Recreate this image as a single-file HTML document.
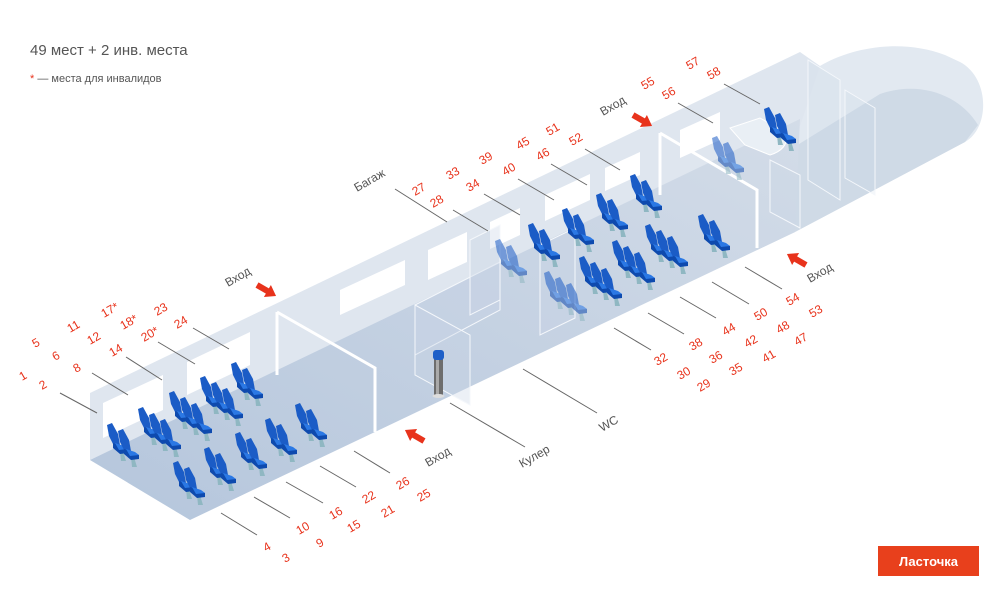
<!DOCTYPE html>
<html><head><meta charset="utf-8"><style>
body{margin:0;background:#fff;width:1000px;height:600px;overflow:hidden;font-family:"Liberation Sans","DejaVu Sans",sans-serif}
svg{display:block}
.r{fill:#e8331c;font-size:12px;font-family:"Liberation Sans","DejaVu Sans",sans-serif}
.g{fill:#555;font-size:12px;font-family:"Liberation Sans","DejaVu Sans",sans-serif}
.ld{stroke:#666;stroke-width:1}
</style></head><body>
<svg width="1000" height="600" viewBox="0 0 1000 600" xmlns="http://www.w3.org/2000/svg">
<defs>
<linearGradient id="fl" x1="0" y1="1" x2="1" y2="0">
<stop offset="0" stop-color="#b5c6dc"/><stop offset="1" stop-color="#d3dce8"/></linearGradient>
<g id="s">
<polygon points="13,27 16,27 19,37 14,37" fill="#8fb7c2"/>
<polygon points="0,1 5,-1 11,10 13,21 7,22 2,12" fill="#1b5cc6"/>
<polygon points="6,19 15,22 21,25 21,29 13,30 6,24" fill="#0e4aae"/>
<polygon points="8,19 17,22 21,25 12,26" fill="#2b78e4"/>
</g>
<g id="s2"><use href="#s"/><use href="#s" x="11" y="6"/></g>
<g id="s3"><use href="#s"/><use href="#s" x="11" y="6"/><use href="#s" x="22" y="12"/></g>
</defs>

<!-- nose / cab shell -->
<path d="M760,98 L820,66 C850,48 900,38 945,55 L960,62 C990,78 990,128 965,142 L795,232 L757,250 Z" fill="#e2e9f1"/>
<path d="M880,94 C920,80 960,95 978,125 L965,142 L795,232 L757,250 L757,170 Z" fill="#cfdae6"/>
<!-- back wall -->
<polygon points="90,393 800,52 820,66 800,126 90,460" fill="#dfe6ef"/>
<!-- floor -->
<polygon points="90,460 190,520 795,232 800,119" fill="url(#fl)"/>
<!-- windows -->
<g fill="#fff">
<polygon points="103,403 163,375 163,410 103,438"/>
<polygon points="187,362 250,332 250,365 187,395"/>
<polygon points="340,290 405,260 405,285 340,315"/>
<polygon points="428,250 467,232 467,262 428,280"/>
<polygon points="490,222 520,208 520,235 490,249"/>
<polygon points="545,195 590,174 590,200 545,221"/>
<polygon points="605,168 640,152 640,175 605,191"/>
<polygon points="680,130 720,112 720,140 680,158"/>
</g>
<!-- translucent boxes -->
<g fill="#c9d5e4" fill-opacity="0.35" stroke="#f4f7fb" stroke-width="1">
<polygon points="415,305 500,262 500,310 415,355"/>
<polygon points="470,240 500,225 500,300 470,315"/>
<polygon points="415,305 470,335 470,405 415,375"/>
<polygon points="540,245 575,228 575,318 540,335"/>
<polygon points="808,60 840,80 840,200 808,180" fill-opacity="0.2"/>
<polygon points="845,90 875,108 875,195 845,178" fill-opacity="0.2"/>
<polygon points="770,160 800,175 800,228 770,212" fill-opacity="0.2"/>
</g>
<!-- vestibule frames -->
<g fill="none" stroke="#fff" stroke-width="3">
<polyline points="277,312 375,368 375,432"/>
<polyline points="277,312 277,375"/>
<polyline points="660,133 757,190 757,248"/>
<polyline points="660,133 660,195"/>
</g>
<!-- table -->
<path d="M730,128 L760,118 L785,132 C790,145 780,152 770,155 L745,145 Z" fill="#e9eff5" stroke="#fff"/>
<!-- seats left salon -->
<use href="#s2" x="107" y="424"/>
<use href="#s3" x="138" y="408"/>
<use href="#s3" x="169" y="392"/>
<use href="#s3" x="200" y="377"/>
<use href="#s2" x="231" y="363"/>
<use href="#s2" x="173" y="462"/>
<use href="#s2" x="204" y="448"/>
<use href="#s2" x="235" y="433"/>
<use href="#s2" x="265" y="419"/>
<use href="#s2" x="295" y="404"/>
<!-- right salon -->
<use href="#s2" x="495" y="240" opacity="0.55"/>
<use href="#s2" x="528" y="224"/>
<use href="#s2" x="562" y="209"/>
<use href="#s2" x="596" y="194"/>
<use href="#s2" x="630" y="175"/>
<use href="#s3" x="544" y="272" opacity="0.55"/>
<use href="#s3" x="579" y="257"/>
<use href="#s3" x="612" y="241"/>
<use href="#s3" x="645" y="225"/>
<use href="#s2" x="698" y="215"/>
<use href="#s2" x="712" y="137" opacity="0.55"/>
<use href="#s2" x="764" y="108"/>
<!-- cooler -->
<rect x="434" y="358" width="9" height="38" fill="#6d6d6d"/>
<rect x="436" y="358" width="3" height="38" fill="#aaa"/>
<rect x="433" y="350" width="11" height="10" rx="3" fill="#1d5fc8"/>
<ellipse cx="438.5" cy="396" rx="6" ry="2" fill="#ddd"/>

<!-- leaders -->
<g class="ld">
<line x1="60" y1="393" x2="97" y2="413"/><line x1="92" y1="373" x2="128" y2="395"/>
<line x1="126" y1="357" x2="162" y2="380"/><line x1="158" y1="342" x2="195" y2="364"/>
<line x1="193" y1="328" x2="229" y2="349"/>
<line x1="221" y1="513" x2="257" y2="535"/><line x1="254" y1="497" x2="290" y2="518"/>
<line x1="286" y1="482" x2="323" y2="503"/><line x1="320" y1="466" x2="356" y2="487"/>
<line x1="354" y1="451" x2="390" y2="473"/>
<line x1="450" y1="403" x2="525" y2="447"/><line x1="523" y1="369" x2="597" y2="413"/>
<line x1="395" y1="189" x2="447" y2="222"/>
<line x1="453" y1="210" x2="488" y2="231"/><line x1="484" y1="194" x2="520" y2="215"/>
<line x1="518" y1="179" x2="554" y2="200"/><line x1="551" y1="164" x2="587" y2="185"/>
<line x1="585" y1="149" x2="620" y2="170"/>
<line x1="678" y1="103" x2="713" y2="123"/><line x1="724" y1="84" x2="760" y2="104"/>
<line x1="745" y1="267" x2="782" y2="289"/><line x1="712" y1="282" x2="749" y2="304"/>
<line x1="680" y1="297" x2="716" y2="318"/><line x1="648" y1="313" x2="684" y2="334"/>
<line x1="614" y1="328" x2="651" y2="350"/>
</g>
<!-- arrows -->
<g fill="#e8331c">
<polygon points="0,-3 12,-3 12,-7 22,0 12,7 12,3 0,3" transform="translate(257,285) rotate(30)"/>
<polygon points="0,-3 12,-3 12,-7 22,0 12,7 12,3 0,3" transform="translate(633,115) rotate(30)"/>
<polygon points="0,-3 12,-3 12,-7 22,0 12,7 12,3 0,3" transform="translate(424,441) rotate(210)"/>
<polygon points="0,-3 12,-3 12,-7 22,0 12,7 12,3 0,3" transform="translate(806,265) rotate(210)"/>
</g>
<!-- labels -->
<g class="r">
<text transform="translate(22,381) rotate(-30)">1</text><text transform="translate(42,390) rotate(-30)">2</text>
<text transform="translate(35,348) rotate(-30)">5</text><text transform="translate(55,361) rotate(-30)">6</text>
<text transform="translate(76,373) rotate(-30)">8</text><text transform="translate(70,333) rotate(-30)">11</text>
<text transform="translate(90,345) rotate(-30)">12</text><text transform="translate(112,357) rotate(-30)">14</text>
<text transform="translate(104,318) rotate(-30)">17*</text><text transform="translate(123,330) rotate(-30)">18*</text>
<text transform="translate(144,342) rotate(-30)">20*</text><text transform="translate(157,316) rotate(-30)">23</text>
<text transform="translate(177,329) rotate(-30)">24</text>
<text transform="translate(266,552) rotate(-30)">4</text><text transform="translate(285,563) rotate(-30)">3</text>
<text transform="translate(299,535) rotate(-30)">10</text><text transform="translate(319,548) rotate(-30)">9</text>
<text transform="translate(332,520) rotate(-30)">16</text><text transform="translate(350,533) rotate(-30)">15</text>
<text transform="translate(365,504) rotate(-30)">22</text><text transform="translate(384,518) rotate(-30)">21</text>
<text transform="translate(399,490) rotate(-30)">26</text><text transform="translate(420,502) rotate(-30)">25</text>
<text transform="translate(415,196) rotate(-30)">27</text><text transform="translate(433,208) rotate(-30)">28</text>
<text transform="translate(449,180) rotate(-30)">33</text><text transform="translate(469,192) rotate(-30)">34</text>
<text transform="translate(482,165) rotate(-30)">39</text><text transform="translate(505,176) rotate(-30)">40</text>
<text transform="translate(519,150) rotate(-30)">45</text><text transform="translate(539,161) rotate(-30)">46</text>
<text transform="translate(549,136) rotate(-30)">51</text><text transform="translate(572,146) rotate(-30)">52</text>
<text transform="translate(644,90) rotate(-30)">55</text><text transform="translate(665,100) rotate(-30)">56</text>
<text transform="translate(689,70) rotate(-30)">57</text><text transform="translate(710,80) rotate(-30)">58</text>
<text transform="translate(789,306) rotate(-30)">54</text><text transform="translate(812,318) rotate(-30)">53</text>
<text transform="translate(757,321) rotate(-30)">50</text><text transform="translate(779,334) rotate(-30)">48</text>
<text transform="translate(797,346) rotate(-30)">47</text>
<text transform="translate(725,336) rotate(-30)">44</text><text transform="translate(747,348) rotate(-30)">42</text>
<text transform="translate(765,363) rotate(-30)">41</text>
<text transform="translate(692,351) rotate(-30)">38</text><text transform="translate(712,364) rotate(-30)">36</text>
<text transform="translate(732,376) rotate(-30)">35</text>
<text transform="translate(657,366) rotate(-30)">32</text><text transform="translate(680,380) rotate(-30)">30</text>
<text transform="translate(700,392) rotate(-30)">29</text>
</g>
<g class="g">
<text transform="translate(228,287) rotate(-30)">Вход</text>
<text transform="translate(603,116) rotate(-30)">Вход</text>
<text transform="translate(428,467) rotate(-30)">Вход</text>
<text transform="translate(810,283) rotate(-30)">Вход</text>
<text transform="translate(522,468) rotate(-30)">Кулер</text>
<text transform="translate(602,432) rotate(-30)">WC</text>
<text transform="translate(357,192) rotate(-30)">Багаж</text>
</g>
<text x="30" y="55" font-size="15" fill="#555">49 мест + 2 инв. места</text>
<text x="30" y="82" font-size="11" fill="#555"><tspan fill="#e8331c">*</tspan> — места для инвалидов</text>
<rect x="878" y="546" width="101" height="30" fill="#e8401c"/>
<text x="928.5" y="566" font-size="13" font-weight="bold" fill="#fff" text-anchor="middle">Ласточка</text>
</svg>
</body></html>
